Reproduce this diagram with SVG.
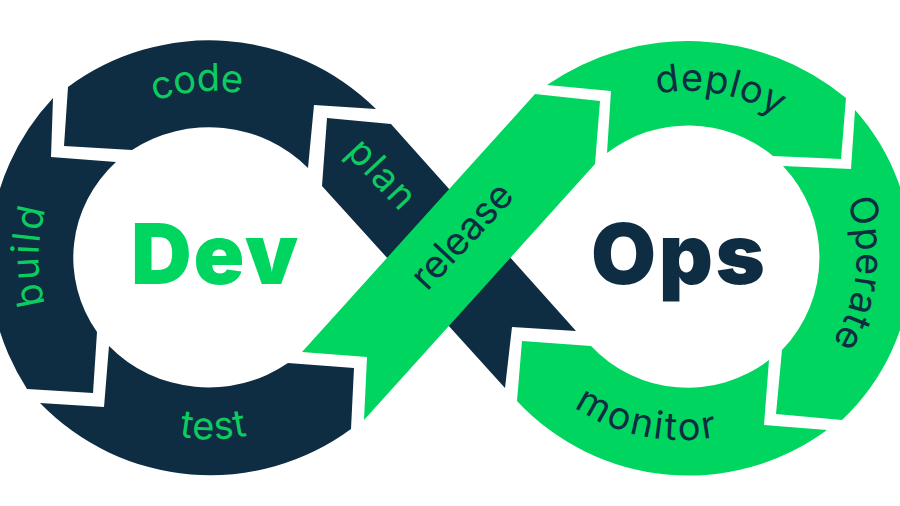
<svg xmlns="http://www.w3.org/2000/svg" width="900" height="506" viewBox="0 0 900 506">
<style>
.d{fill:#0f2d42}
.g{fill:#00d65f}
.l{font-family:Inter,"Liberation Sans",sans-serif;font-size:38px;font-weight:400}
.ld{fill:#0f2d42}
.lg{fill:#0ccb60}
.t{font-family:Inter,"Liberation Sans",sans-serif;font-size:84px;font-weight:900}
</style>
<defs>
<path id="pcode" d="M155 101A166 166 0 0 1 300 116"/>
<path id="pbuild" d="M45 304A172 172 0 0 1 100 126"/>
<path id="ptest" d="M179 436.5A180 180 0 0 0 290 421"/>
<path id="pdeploy" d="M657 94A165 165 0 0 1 800 134"/>
<path id="poperate" d="M847 200A166 166 0 0 1 795 385"/>
<path id="pmonitor" d="M574 407A190 190 0 0 0 772 417"/>
</defs>
<rect width="900" height="506" fill="#fff"/>
<g id="plan"><polygon class="d" points="327,118 391,124 576,331 512,327 505,388 322,186"/>
<text class="l lg" transform="translate(345 153) rotate(47)" textLength="81">plan</text></g>
<g id="code"><path class="d" d="M68 87A237 237 0 0 1 376 109L314 105L308 168A137 132 0 0 0 132 150L64 146Z"/>
<text class="l lg"><textPath href="#pcode" textLength="88">code</textPath></text></g>
<g id="build"><path class="d" d="M53 98L51 157L116 162A137 132 0 0 0 97 332L93 393L27 389A237 237 0 0 1 53 98Z"/>
<text class="l lg"><textPath href="#pbuild" textLength="96">build</textPath></text></g>
<g id="test"><path class="d" d="M40 403L104 407L109 346A137 132 0 0 0 288 363L354 368L351 429A237 237 0 0 1 40 403Z"/>
<text class="l lg"><textPath href="#ptest" textLength="69">test</textPath></text></g>
<g id="release"><polygon class="g" points="535,94 600,101 595,164 364,420 367,357 302,352"/>
<text class="l ld" transform="translate(427 292) rotate(-47)" textLength="130">release</text></g>
<g id="deploy"><path class="g" d="M547 85A248 248 0 0 1 846 98L841 159L773 156A133 133 0 0 0 607 153L611 91Z"/>
<text class="l ld"><textPath href="#pdeploy" textLength="125">deploy</textPath></text></g>
<g id="operate"><path class="g" d="M855 110A222 222 0 0 1 842 420L776 414L782 350A133 133 0 0 0 783 166L851 169Z"/>
<text class="l ld"><textPath href="#poperate" textLength="148">Operate</textPath></text></g>
<g id="monitor"><path class="g" d="M522 341L591 346A133 133 0 0 0 769 360L764 425L827 430A234 234 0 0 1 517 401Z"/>
<text class="l ld"><textPath href="#pmonitor" textLength="150">monitor</textPath></text></g>
<g id="dev"><text class="t" x="131" y="284" fill="#00d65f" textLength="167">Dev</text></g>
<g id="ops"><text class="t" x="591" y="284" fill="#0f2d42" textLength="174">Ops</text></g>
</svg>
